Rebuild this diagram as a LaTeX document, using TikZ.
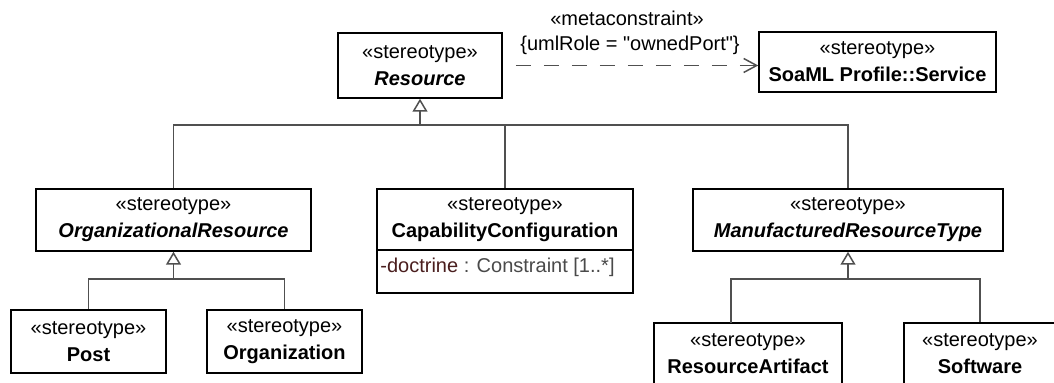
\documentclass[tikz,border=0pt]{standalone}
\usepackage{fontspec}
\setmainfont{Liberation Sans}[Ligatures=TeXOff]
\usetikzlibrary{arrows.meta}
\definecolor{lin}{HTML}{505050}
\definecolor{attrname}{HTML}{4A1E1E}
\definecolor{attrtype}{HTML}{4A4A4A}
\begin{document}
\begin{tikzpicture}[x=0.5pt,y=-0.5pt,
  font=\fontsize{10}{13.5}\selectfont,
  cls/.style={draw=black, line width=0.75pt, rectangle, align=center, inner sep=0pt},
  conn/.style={draw=lin, line width=0.75pt},
  gen/.style={conn, -{Triangle[open,length=6.5pt,width=7.5pt]}},
  dep/.style={conn, dash pattern=on 7.5pt off 6.5pt, -{Straight Barb[length=6.5pt,width=7pt]}},
  lbl/.style={inner sep=0pt}]
\useasboundingbox (0,0) rectangle (1054,383);
\fill[white] (0,0) rectangle (1054,383);
\clip (0,0) rectangle (1054,383);

% boxes
\node[cls, minimum width=82pt, minimum height=32.5pt] (res) at (420,65.5)
  {«stereotype»\\\textbf{\textit{Resource}}};
\node[cls, minimum width=118.5pt, minimum height=30pt] (svc) at (877.5,62)
  {«stereotype»\\\textbf{SoaML Profile::Service}};
\node[cls, minimum width=137.5pt, minimum height=31pt] (org) at (173.5,220)
  {«stereotype»\\\textbf{\textit{OrganizationalResource}}};
\node[cls, minimum width=128pt, minimum height=30.5pt] (capH) at (505,219.5)
  {«stereotype»\\\textbf{CapabilityConfiguration}};
\node[cls, minimum width=128pt, minimum height=21.5pt] (capA) at (505,271.5) {};
\node[lbl, anchor=west] (capAttr) at (380,267)
  {\textcolor{attrname}{-doctrine} \textcolor{attrtype}{: Constraint [1..*]}};
\node[cls, minimum width=155pt, minimum height=31pt] (mrt) at (848,220)
  {«stereotype»\\\textbf{\textit{ManufacturedResourceType}}};
\node[cls, minimum width=77.5pt, minimum height=31.5pt] (post) at (88.5,341.5)
  {«stereotype»\\\textbf{Post}};
\node[cls, minimum width=77.5pt, minimum height=31.5pt] (orgn) at (284.5,341.5)
  {«stereotype»\\\textbf{Organization}};
\node[cls, minimum width=94pt, minimum height=31pt] (ra) at (748,354)
  {«stereotype»\\\textbf{ResourceArtifact}};
\node[cls, minimum width=76pt, minimum height=31pt] (sw) at (980,354)
  {«stereotype»\\\textbf{Software}};

% dependency
\draw[dep, shorten <=6.5pt] (res.east) -- (res.east -| svc.west);
\node[lbl] (mc) at (627,18) {«metaconstraint»};
\node[lbl] (ur) at (630,45) {\{umlRole = "ownedPort"\}};

% generalizations
\coordinate (bus1) at (420,125);
\coordinate (bus2) at (173.5,279);
\coordinate (bus3) at (848,279);
\coordinate (raT) at (731,323);
\draw[conn] (org.north) |- (bus1) -| (mrt.north);
\draw[conn] (capH.north) -- (capH.north |- bus1);
\draw[gen] (bus1) -- (res.south);

\draw[conn] (post.north) |- (bus2) -| (orgn.north);
\draw[gen] (bus2) -- (org.south);

\draw[conn] (raT) |- (bus3) -| (sw.north);
\draw[gen] (bus3) -- (mrt.south);
\end{tikzpicture}
\end{document}
